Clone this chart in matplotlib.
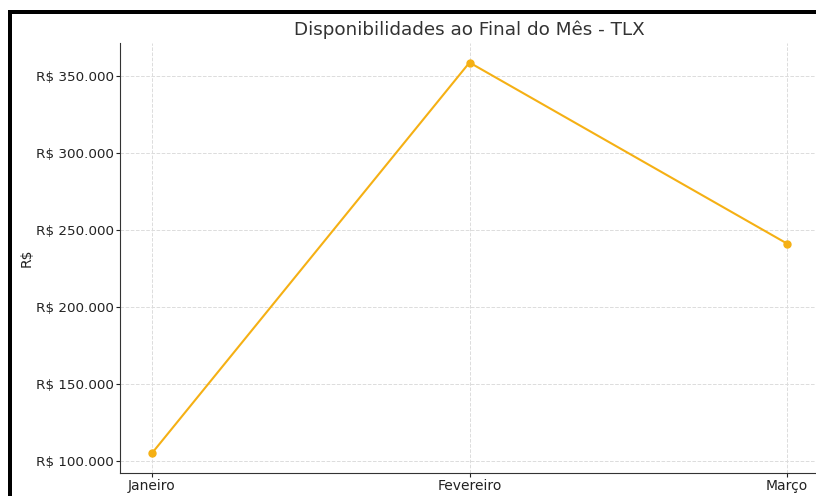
import matplotlib
matplotlib.use("Agg")
import matplotlib.pyplot as plt
from matplotlib.patches import Rectangle

months = ["Janeiro", "Fevereiro", "Março"]
values = [105000, 359000, 241300]
yticks = [100000, 150000, 200000, 250000, 300000, 350000]
ytick_labels = ["R$ 100.000", "R$ 150.000", "R$ 200.000", "R$ 250.000", "R$ 300.000", "R$ 350.000"]

W, H = 816, 496
fig = plt.figure(figsize=(W / 100, H / 100), dpi=100)
ax = fig.add_axes([120 / W, 1 - 473 / H, (819 - 120) / W, (473 - 43) / H])

color = "#F5B014"
ax.plot(range(len(months)), values, color=color, linewidth=1.5, marker="o", markersize=5)

ax.set_xticks(range(len(months)))
ax.set_xticklabels(months, fontsize=10)
ax.set_yticks(yticks)
ax.set_yticklabels(ytick_labels, fontsize=9.7)
ax.grid(True, linestyle="--", color="#dcdcdc", linewidth=0.7)
ax.set_axisbelow(True)
for s in ["top", "right"]:
    ax.spines[s].set_visible(False)
for s in ["left", "bottom"]:
    ax.spines[s].set_color("#333333")
ax.tick_params(colors="#222222", length=3, width=0.8, pad=1.5)
ax.set_ylabel("R$", fontsize=10, color="#222222", labelpad=1.5)
ax.set_title("Disponibilidades ao Final do Mês - TLX", fontsize=13.2, color="#333333", pad=6)

# black frame at left and top (screenshot border)
fig.add_artist(Rectangle((8 / W, 0), 4 / W, (H - 10) / H, transform=fig.transFigure,
                         facecolor="black", edgecolor="none"))
fig.add_artist(Rectangle((8 / W, 1 - 14 / H), (W - 8) / W, 4 / H, transform=fig.transFigure,
                         facecolor="black", edgecolor="none"))

fig.savefig("out.png", dpi=100)
